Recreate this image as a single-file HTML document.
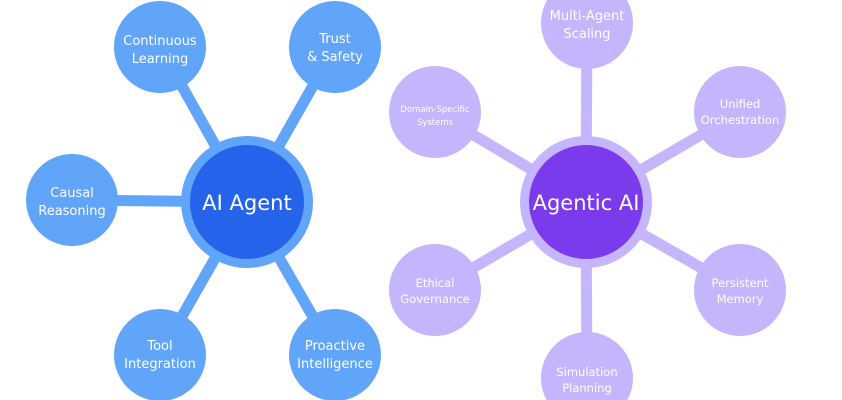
<!DOCTYPE html>
<html><head><meta charset="utf-8"><style>
html,body{margin:0;padding:0;background:#fff;width:842px;height:400px;overflow:hidden}
svg{display:block}
text{font-family:"DejaVu Sans","Liberation Sans",sans-serif;fill:#fff;text-anchor:middle}
</style></head><body>
<svg width="842" height="400" viewBox="0 0 842 400" xmlns="http://www.w3.org/2000/svg">
<g stroke="#60A5FA" stroke-width="11" stroke-linecap="round">
<line x1="247" y1="202" x2="160" y2="47"/>
<line x1="247" y1="202" x2="335" y2="47"/>
<line x1="247" y1="202" x2="72" y2="200"/>
<line x1="247" y1="202" x2="160" y2="355"/>
<line x1="247" y1="202" x2="335" y2="355"/>
</g>
<g fill="#60A5FA">
<circle cx="160" cy="47" r="46"/><circle cx="335" cy="47" r="46"/>
<circle cx="72" cy="200" r="46"/><circle cx="160" cy="355" r="46"/>
<circle cx="335" cy="355" r="46"/><circle cx="247" cy="202" r="66"/>
</g>
<circle cx="247" cy="202" r="57" fill="#2563EB"/>
<g stroke="#C4B5FD" stroke-width="11" stroke-linecap="round">
<line x1="586" y1="202" x2="587" y2="23"/>
<line x1="586" y1="202" x2="740" y2="112"/>
<line x1="586" y1="202" x2="435" y2="112"/>
<line x1="586" y1="202" x2="435" y2="290"/>
<line x1="586" y1="202" x2="740" y2="290"/>
<line x1="586" y1="202" x2="587" y2="378"/>
</g>
<g fill="#C4B5FD">
<circle cx="587" cy="23" r="46"/><circle cx="740" cy="112" r="46"/>
<circle cx="435" cy="112" r="46"/><circle cx="435" cy="290" r="46"/>
<circle cx="740" cy="290" r="46"/><circle cx="587" cy="378" r="46"/>
<circle cx="586" cy="202" r="66"/>
</g>
<circle cx="586" cy="202" r="57" fill="#7C3AED"/>
<g font-size="13">
<text x="160" y="45">Continuous</text><text x="160" y="63">Learning</text>
<text x="335" y="43">Trust</text><text x="335" y="61">&amp; Safety</text>
<text x="72" y="197">Causal</text><text x="72" y="215">Reasoning</text>
<text x="160" y="350">Tool</text><text x="160" y="368">Integration</text>
<text x="335" y="350">Proactive</text><text x="335" y="368">Intelligence</text>
<text x="587" y="20">Multi-Agent</text><text x="587" y="38">Scaling</text>
</g>
<g font-size="11.5">
<text x="740" y="108">Unified</text><text x="740" y="124">Orchestration</text>
<text x="435" y="287">Ethical</text><text x="435" y="303">Governance</text>
<text x="740" y="287">Persistent</text><text x="740" y="303">Memory</text>
<text x="587" y="376">Simulation</text><text x="587" y="392">Planning</text>
</g>
<g font-size="8.5">
<text x="435" y="112">Domain-Specific</text><text x="435" y="125">Systems</text>
</g>
<text x="247" y="210" font-size="21">AI Agent</text>
<text x="586" y="210" font-size="21">Agentic AI</text>
</svg>
</body></html>
